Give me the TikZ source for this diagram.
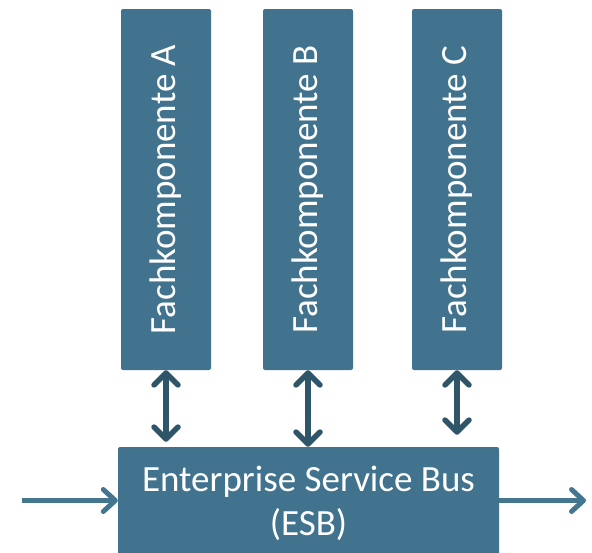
\documentclass[tikz,border=0pt]{standalone}
\usepackage{xcolor}
\usepackage{graphicx}
\usepackage{fontspec}
\usepackage{tikz}
\usetikzlibrary{positioning,arrows.meta}
\setmainfont{Carlito}

\definecolor{boxblue}{HTML}{42738E}
\definecolor{linkdark}{HTML}{2F5668}
\definecolor{flowblue}{HTML}{44768F}

\tikzset{
	component/.style={rectangle, rounded corners=2pt, fill=boxblue, text=white, inner sep=0pt,
		minimum width=90pt, minimum height=361pt, font=\fontsize{37}{44}\selectfont},
	bus/.style={rectangle, rounded corners=2pt, fill=boxblue, text=white, inner sep=0pt, align=center,
		minimum width=381pt, minimum height=113pt, font=\fontsize{37}{44}\selectfont},
	duplex/.style={{Straight Barb[round,length=12pt,width=24pt]}-{Straight Barb[round,length=12pt,width=24pt]},
		line width=5.5pt, draw=linkdark},
	flow/.style={-{Straight Barb[round,length=12pt,width=22pt]}, line width=5pt, draw=flowblue}
}

\begin{document}
\begin{tikzpicture}[x=1pt, y=-1pt]
	\useasboundingbox (0,0) rectangle (592,552);
	\node[component] (fka) at (166,189.5) {\rotatebox{90}{Fachkomponente A}};
	\node[component] (fkb) at (308,189.5) {\rotatebox{90}{Fachkomponente B}};
	\node[component] (fkc) at (457,189.5) {\rotatebox{90}{Fachkomponente C}};
	\node[bus] (esb) at (308.5,503.5) {Enterprise Service Bus\\(ESB)};
	\coordinate (in) at (22,500.5);
	\coordinate (out) at (586,500.5);
	\draw[duplex, shorten >=5pt] (fka.south) -- (fka.south |- esb.north);
	\draw[duplex] (fkb.south) -- (fkb.south |- esb.north);
	\draw[duplex, shorten >=12pt] (fkc.south) -- (fkc.south |- esb.north);
	\draw[flow] (in) -- (esb.west |- in);
	\draw[flow] (esb.east |- out) -- (out);
\end{tikzpicture}
\end{document}
